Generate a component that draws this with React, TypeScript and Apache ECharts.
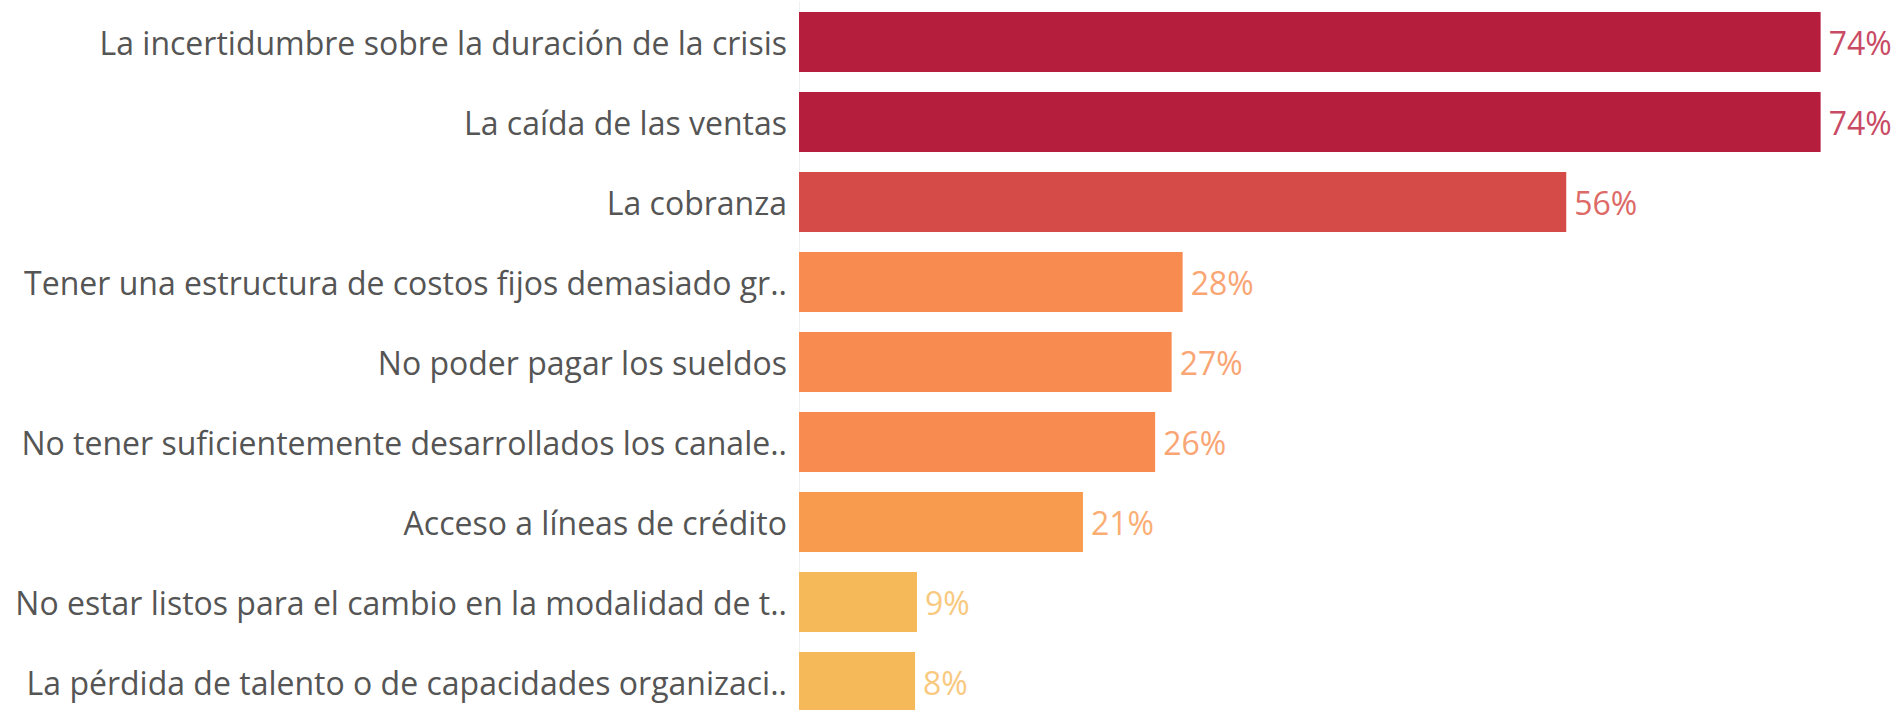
import React, { useEffect, useRef } from "react";
import * as echarts from "echarts";

const categories = [
  "La incertidumbre sobre la duración de la crisis",
  "La caída de las ventas",
  "La cobranza",
  "Tener una estructura de costos fijos demasiado gr..",
  "No poder pagar los sueldos",
  "No tener suficientemente desarrollados los canale..",
  "Acceso a líneas de crédito",
  "No estar listos para el cambio en la modalidad de t..",
  "La pérdida de talento o de capacidades organizaci..",
];
const values = [74.3, 74.3, 55.8, 27.9, 27.1, 25.9, 20.65, 8.58, 8.44];
const barColors = ["#b61e3e", "#b61e3e", "#d44b48", "#f88b4f", "#f88b4f", "#f88b4f", "#f99b4f", "#f5b95a", "#f5b95a"];
const labelColors = ["#c94a64", "#c94a64", "#dd6a66", "#f9a574", "#f9a574", "#f9a574", "#fbae74", "#f8c97e", "#f8c97e"];

export default function App() {
  const ref = useRef<HTMLDivElement>(null);
  useEffect(() => {
    if (!ref.current) return;
    const chart = echarts.init(ref.current, undefined, { renderer: "svg" });
    chart.setOption({
      animation: false,
      backgroundColor: "#ffffff",
      grid: { left: 799, top: 2, height: 720, right: 26.5, containLabel: false },
      xAxis: { type: "value", min: 0, max: 78, show: false },
      yAxis: {
        type: "category",
        inverse: true,
        data: categories,
        axisTick: { show: false },
        axisLine: { show: true, lineStyle: { color: "#f0f0f0", width: 1 } },
        axisLabel: {
          margin: 12,
          color: "#555555",
          fontFamily: "Open Sans",
          fontSize: 32,
        },
        splitLine: { show: false },
      },
      series: [
        {
          type: "bar",
          barWidth: 60,
          data: values.map((v, i) => ({
            value: v,
            itemStyle: { color: barColors[i] },
            label: { color: labelColors[i] },
          })),
          label: {
            show: true,
            position: "right",
            distance: 8,
            fontFamily: "Open Sans",
            fontSize: 32,
            formatter: (p: any) => Math.round(p.value) + "%",
          },
        },
      ],
    });
    return () => chart.dispose();
  }, []);
  return (
    <div style={{ position: "absolute", left: 0, top: 0, width: 1898, height: 710, overflow: "hidden" }}>
      <div ref={ref} style={{ width: 1898, height: 730 }} />
    </div>
  );
}
